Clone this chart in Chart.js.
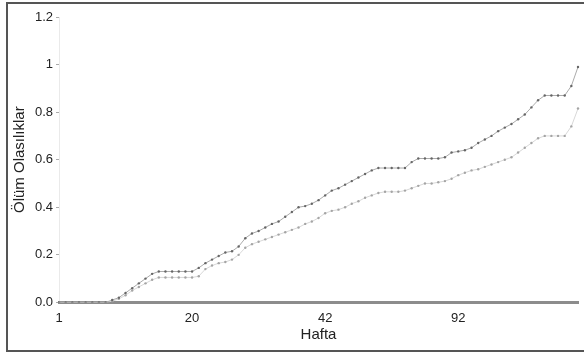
<!DOCTYPE html>
<html>
<head>
<meta charset="utf-8">
<script src="https://cdn.jsdelivr.net/npm/chart.js@4"></script>
<style>
  body{margin:0;background:#fff;}
  #wrap{position:relative;width:584px;height:356px;overflow:hidden;}
  #frame{position:absolute;left:6px;top:2px;width:600px;height:350px;border:2px solid #555;box-sizing:border-box;}
  canvas{position:absolute;left:0;top:0;}
</style>
</head>
<body>
<div id="wrap">
  <div id="frame"></div>
  <canvas id="c" width="584" height="356"></canvas>
</div>
<script>
// tick labels shown on the week axis, and the category index they sit at
const weekTicks = ['1', '20', '42', '92'];
const weekTickIdx = [0, 20, 40, 60];

// cumulative death probability, upper (dark) curve
const upper = [0,0,0,0,0,0,0,0,0.01,0.02,0.04,0.06,0.08,0.10,0.12,0.13,0.13,0.13,0.13,0.13,
  0.13,0.145,0.165,0.18,0.195,0.21,0.215,0.235,0.27,0.29,0.30,0.315,0.33,0.34,0.36,0.38,0.40,0.405,0.415,0.43,
  0.45,0.47,0.48,0.495,0.51,0.525,0.54,0.555,0.565,0.565,0.565,0.565,0.565,0.59,0.605,0.605,0.605,0.605,0.61,0.63,
  0.635,0.64,0.65,0.67,0.685,0.70,0.72,0.735,0.75,0.77,0.79,0.82,0.85,0.87,0.87,0.87,0.87,0.91,0.99];

// lower (light) curve
const lower = [0,0,0,0,0,0,0,0,0.005,0.015,0.03,0.05,0.065,0.08,0.095,0.105,0.105,0.105,0.105,0.105,
  0.105,0.11,0.14,0.155,0.165,0.17,0.18,0.20,0.23,0.245,0.255,0.265,0.275,0.285,0.295,0.305,0.315,0.33,0.34,0.355,
  0.375,0.385,0.39,0.40,0.415,0.425,0.44,0.45,0.46,0.465,0.465,0.465,0.47,0.48,0.49,0.50,0.50,0.505,0.51,0.52,
  0.535,0.545,0.555,0.56,0.57,0.58,0.59,0.60,0.61,0.63,0.65,0.67,0.69,0.70,0.70,0.70,0.70,0.74,0.815];

const labels = upper.map((v, i) => {
  const k = weekTickIdx.indexOf(i);
  return k >= 0 ? weekTicks[k] : '';
});

const tickFont = {family: '"Liberation Sans", Arial, sans-serif', size: 13};
const titleFont = {family: '"Liberation Sans", Arial, sans-serif', size: 15};

new Chart(document.getElementById('c'), {
  type: 'line',
  data: {
    labels: labels,
    datasets: [
      {data: upper, borderColor: '#ababab', borderWidth: 1, pointRadius: 1.2,
       pointBackgroundColor: '#666', pointBorderWidth: 0, tension: 0},
      {data: lower, borderColor: '#d8d8d8', borderWidth: 1, pointRadius: 1.2,
       pointBackgroundColor: '#a5a5a5', pointBorderWidth: 0, tension: 0}
    ]
  },
  options: {
    responsive: false,
    animation: false,
    layout: {padding: {left: 11, top: 17, right: 6, bottom: 12}},
    plugins: {legend: {display: false}, tooltip: {enabled: false}},
    scales: {
      x: {
        grid: {display: false},
        border: {color: '#8c8c8c', width: 3},
        ticks: {autoSkip: false, maxRotation: 0, color: '#222', font: tickFont, padding: 0},
        title: {display: true, text: 'Hafta', color: '#222', font: titleFont, padding: 0}
      },
      y: {
        min: 0, max: 1.2,
        afterFit: s => { s.width = 48; },
        grid: {drawOnChartArea: false, color: '#aaa', tickLength: 3},
        border: {color: '#eaeaea', width: 1},
        ticks: {stepSize: 0.2, color: '#222', font: tickFont, padding: 3,
          callback: v => v === 0 ? '0.0' : String(Math.round(v * 10) / 10)},
        title: {display: true, text: 'Ölüm Olasılıklar', color: '#222', font: titleFont, padding: 0}
      }
    }
  }
});
</script>
</body>
</html>
